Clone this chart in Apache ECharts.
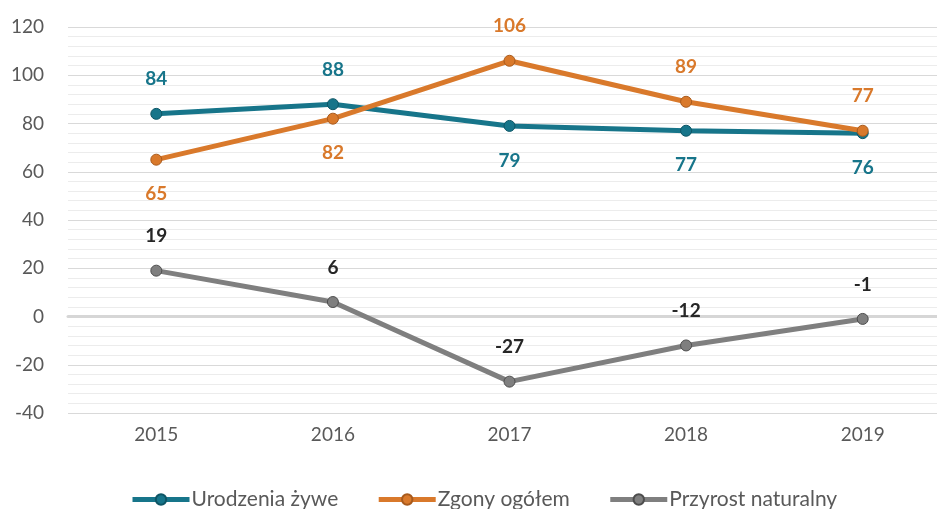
<!DOCTYPE html>
<html>
<head>
<meta charset="utf-8">
<script src="https://cdn.jsdelivr.net/npm/echarts@6/dist/echarts.min.js"></script>
<style>
  html, body { margin:0; padding:0; background:#fff; }
  #chart { width:937px; height:509px; }
</style>
</head>
<body>
<div id="chart"></div>
<script>
(function(){

	var years = ["2015", "2016", "2017", "2018", "2019"];
	var urodzenia = [84, 88, 79, 77, 76];
	var zgony = [65, 82, 106, 89, 77];
	var przyrost = [19, 6, -27, -12, -1];

	// which side each value label sits on
	var urodzeniaPos = ["top", "top", "bottom", "bottom", "bottom"];
	var zgonyPos = ["bottom", "bottom", "top", "top", "top"];

	var FONT = "Lato";
	var TEAL = "#17758a";
	var ORANGE = "#d9792b";
	var GREY = "#7f7f7f";

	var withLabels = function(values, positions){
		var out = [];
		for (var i = 0; i < values.length; i++){
			out.push({
				value: values[i],
				label: {position: positions ? positions[i] : "top"}
			});
		}
		return out;
	}

	var makeSeries = function(name, values, positions, color, border, labelColor){
		return {
			name: name,
			type: "line",
			data: withLabels(values, positions),
			symbol: "circle",
			symbolSize: 11,
			lineStyle: {color: color, width: 5},
			itemStyle: {color: color, borderColor: border, borderWidth: 1},
			label: {
				show: true,
				distance: 19,
				color: labelColor,
				fontFamily: FONT,
				fontWeight: "bold",
				fontSize: 19
			},
			emphasis: {disabled: true},
			z: 3
		};
	}

	var chart = echarts.init(document.getElementById("chart"));

	var option = {
		animation: false,
		textStyle: {fontFamily: FONT},
		// plot runs past the right edge like the original
		grid: {left: 68, width: 883, top: 27, bottom: 96, outerBoundsMode: "none", containLabel: false},
		legend: {
			top: 484,
			left: 125,
			itemWidth: 57,
			itemHeight: 13,
			itemGap: 38,
			lineStyle: {width: 5},
			textStyle: {color: "#595959", fontSize: 21, fontFamily: FONT, padding: [0, 0, 0, -3]},
			data: ["Urodzenia żywe", "Zgony ogółem", "Przyrost naturalny"]
		},
		xAxis: {
			type: "category",
			data: years,
			boundaryGap: true,
			axisTick: {show: false},
			axisLine: {onZero: true, lineStyle: {color: "#d6d6d6", width: 3}},
			axisLabel: {color: "#595959", fontSize: 19, fontFamily: FONT, margin: 12},
			z: 1
		},
		yAxis: {
			type: "value",
			min: -40,
			max: 120,
			interval: 20,
			axisLine: {show: false},
			axisTick: {show: false},
			axisLabel: {color: "#595959", fontSize: 19, fontFamily: FONT, margin: 24},
			splitLine: {show: true, lineStyle: {color: "#d9d9d9", width: 1}},
			minorTick: {show: false, splitNumber: 5},
			minorSplitLine: {show: true, lineStyle: {color: "#ececec", width: 1}}
		},
		series: [
			makeSeries("Urodzenia żywe", urodzenia, urodzeniaPos, TEAL, "#0e5666", TEAL),
			makeSeries("Zgony ogółem", zgony, zgonyPos, ORANGE, "#a85a1c", ORANGE),
			makeSeries("Przyrost naturalny", przyrost, null, GREY, "#4d4d4d", "#262626")
		]
	};

	chart.setOption(option);
})();
</script>
</body>
</html>
